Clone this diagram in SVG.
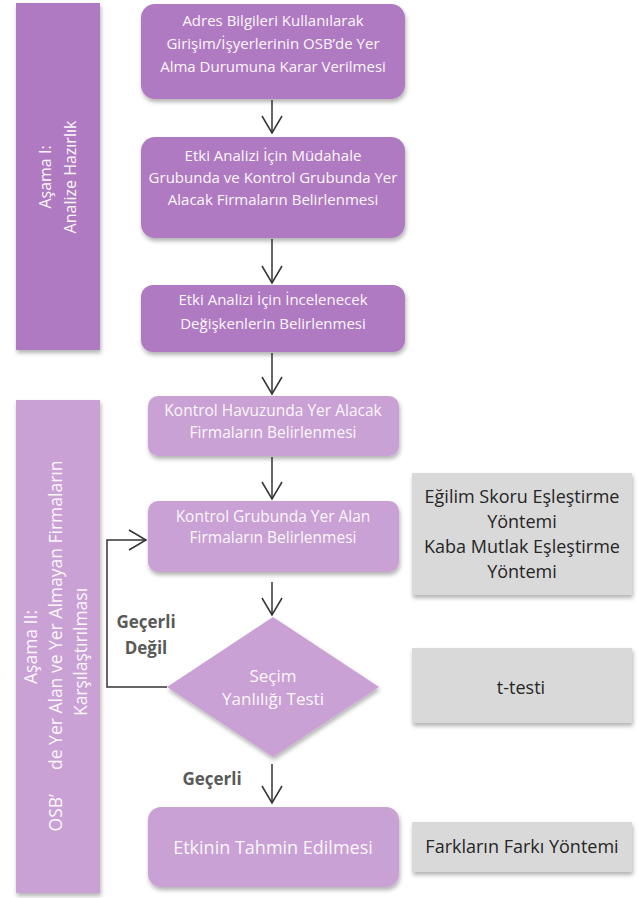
<svg xmlns="http://www.w3.org/2000/svg" width="639" height="898" viewBox="0 0 639 898">
<style>
  text { font-family: "Open Sans", Lato, "DejaVu Sans", sans-serif; }
  .dk { fill: #B07AC2; }
  .lt { fill: #C9A1D4; }
  .gr { fill: #D9D9D9; }
  .wt { fill: #FBF7FC; text-anchor: middle; }
  .bt { font-size: 15px; }
  .bl { font-size: 15.5px; }
  .gt { fill: #262626; text-anchor: middle; font-size: 18px; }
  .lbl { fill: #595959; font-weight: bold; font-size: 17px; text-anchor: middle; }
  .side { fill: #FBF7FC; text-anchor: middle; }
  .conn { fill: none; stroke: #333333; stroke-width: 1.5; }
</style>
<defs>
  <filter id="sh" x="-10%" y="-10%" width="125%" height="135%">
    <feDropShadow dx="1" dy="3" stdDeviation="2" flood-color="#000" flood-opacity="0.3"/>
  </filter>
  <marker id="arr" markerWidth="22" markerHeight="24" refX="18" refY="11" orient="auto" markerUnits="userSpaceOnUse" viewBox="0 0 22 24">
    <path d="M1,1 L18,11 L1,21" fill="none" stroke="#333333" stroke-width="1.5"/>
  </marker>
</defs>
<rect width="639" height="898" fill="#FFFFFF"/>

<g id="phase1">
  <rect class="dk" x="16" y="3" width="84" height="347" filter="url(#sh)"/>
  <text class="side" font-size="16" transform="translate(51,177) rotate(-90)">Aşama I:</text>
  <text class="side" font-size="16" transform="translate(76,177) rotate(-90)">Analize Hazırlık</text>
</g>

<g id="phase2">
  <rect class="lt" x="16" y="400" width="84" height="493" filter="url(#sh)"/>
  <text class="side" font-size="17.5" transform="translate(37,647) rotate(-90)">Aşama II:</text>
  <text class="side" font-size="17.5" transform="translate(62,646) rotate(-90)">OSB’<tspan dx="24">de Yer Alan ve Yer Almayan Firmaların</tspan></text>
  <text class="side" font-size="17.5" transform="translate(87,652) rotate(-90)">Karşılaştırılması</text>
</g>

<g id="n1">
  <rect class="dk" x="141" y="4" width="264" height="95" rx="14" filter="url(#sh)"/>
  <text class="wt bt" x="273" y="26">Adres Bilgileri Kullanılarak</text>
  <text class="wt bt" x="273" y="49">Girişim/İşyerlerinin OSB’de Yer</text>
  <text class="wt bt" x="273" y="72">Alma Durumuna Karar Verilmesi</text>
</g>

<g id="n2">
  <rect class="dk" x="141" y="137" width="264" height="101" rx="14" filter="url(#sh)"/>
  <text class="wt bt" x="273" y="161">Etki Analizi İçin Müdahale</text>
  <text class="wt bt" x="273" y="183">Grubunda ve Kontrol Grubunda Yer</text>
  <text class="wt bt" x="273" y="205">Alacak Firmaların Belirlenmesi</text>
</g>

<g id="n3">
  <rect class="dk" x="141" y="285" width="264" height="67" rx="12" filter="url(#sh)"/>
  <text class="wt bt" x="273" y="305">Etki Analizi İçin İncelenecek</text>
  <text class="wt bt" x="273" y="329">Değişkenlerin Belirlenmesi</text>
</g>

<g id="n4">
  <rect class="lt" x="148" y="396" width="251" height="60" rx="10" filter="url(#sh)"/>
  <text class="wt bl" x="273" y="416">Kontrol Havuzunda Yer Alacak</text>
  <text class="wt bl" x="273" y="438">Firmaların Belirlenmesi</text>
</g>

<g id="n5">
  <rect class="lt" x="148" y="501" width="251" height="71" rx="10" filter="url(#sh)"/>
  <text class="wt bl" x="273" y="522">Kontrol Grubunda Yer Alan</text>
  <text class="wt bl" x="273" y="543">Firmaların Belirlenmesi</text>
</g>

<g id="n6">
  <polygon class="lt" points="273,617 379,687 273,757 167,687" filter="url(#sh)"/>
  <text class="wt" font-size="17" x="273" y="682">Seçim</text>
  <text class="wt" font-size="17" x="273" y="705">Yanlılığı Testi</text>
</g>

<g id="n7">
  <rect class="lt" x="148" y="807" width="251" height="80" rx="13" filter="url(#sh)"/>
  <text class="wt" font-size="18" x="273" y="854">Etkinin Tahmin Edilmesi</text>
</g>

<g id="m1">
  <rect class="gr" x="412" y="473" width="220" height="122" filter="url(#sh)"/>
  <text class="gt" x="522" y="503">Eğilim Skoru Eşleştirme</text>
  <text class="gt" x="522" y="528">Yöntemi</text>
  <text class="gt" x="522" y="553">Kaba Mutlak Eşleştirme</text>
  <text class="gt" x="522" y="578">Yöntemi</text>
</g>

<g id="m2">
  <rect class="gr" x="412" y="648" width="220" height="75" filter="url(#sh)"/>
  <text class="gt" font-size="20" x="521" y="694">t-testi</text>
</g>

<g id="m3">
  <rect class="gr" x="412" y="822" width="220" height="50" filter="url(#sh)"/>
  <text class="gt" x="522" y="853">Farkların Farkı Yöntemi</text>
</g>

<g id="connectors">
  <line class="conn" x1="272" y1="100" x2="272" y2="133" marker-end="url(#arr)"/>
  <line class="conn" x1="272" y1="239" x2="272" y2="283" marker-end="url(#arr)"/>
  <line class="conn" x1="272" y1="353" x2="272" y2="394" marker-end="url(#arr)"/>
  <line class="conn" x1="272" y1="457" x2="272" y2="499" marker-end="url(#arr)"/>
  <line class="conn" x1="272" y1="582" x2="272" y2="615" marker-end="url(#arr)"/>
  <line class="conn" x1="272" y1="764" x2="272" y2="803" marker-end="url(#arr)"/>
  <polyline class="conn" points="167,687 107,687 107,540 146,540" marker-end="url(#arr)"/>
  <text class="lbl" x="146" y="628">Geçerli</text>
  <text class="lbl" x="146" y="654">Değil</text>
  <text class="lbl" x="212" y="785">Geçerli</text>
</g>
</svg>
